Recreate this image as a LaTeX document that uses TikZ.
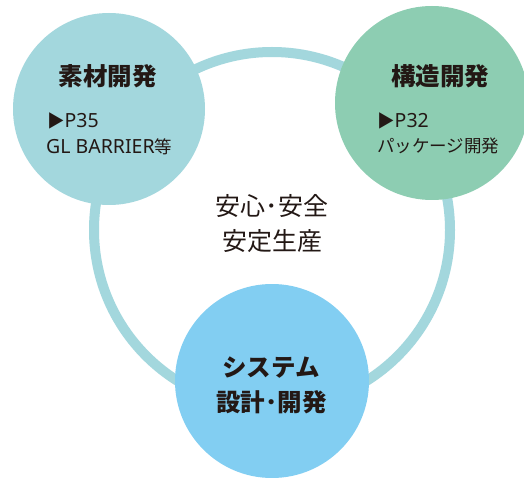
\documentclass[tikz,border=0pt]{standalone}
\usepackage{fontspec}
\setmainfont{Noto Sans CJK JP}
\newfontfamily\latinsans{Noto Sans}
\definecolor{ringc}{HTML}{A3D7DD}
\definecolor{matc}{HTML}{A3D7DD}
\definecolor{strc}{HTML}{8DCDB2}
\definecolor{sysc}{HTML}{82CEF2}
\definecolor{txt}{HTML}{231815}
\tikzset{
  title/.style={font=\fontsize{24.5}{28}\selectfont\bfseries, text=txt, inner sep=0pt, anchor=base},
  sub/.style={font=\fontsize{17.5}{20}\selectfont, text=txt, inner sep=0pt, anchor=base west},
  mid/.style={font=\fontsize{25}{28}\selectfont, text=txt, inner sep=0pt, anchor=base},
}
\newcommand{\lat}[1]{{\latinsans\fontsize{19.5}{20}\selectfont #1}}
\begin{document}
\begin{tikzpicture}[x=1pt,y=-1pt]
\useasboundingbox (0,0) rectangle (524,478);
\clip (0,0) rectangle (524,478);
\fill[white] (0,0) rectangle (524,478);
\coordinate (ringcenter) at (272,230);
\draw[ringc, line width=10pt] (ringcenter) circle[radius=178];
\fill[matc] (109,109) circle[radius=96];
\fill[strc] (432,103) circle[radius=97];
\fill[sysc] (272,381) circle[radius=97];
\node[title] (t1) at (107.5,86) {素材開発};
\node[sub] (p1) at (47,128) {▶\lat{P35}};
\node[sub] (g1) at (46,154) {\lat{GL BARRIER}等};
\node[title] (t2) at (440,86) {構造開発};
\node[sub] (p2) at (377,128) {▶\lat{P32}};
\node[sub] (g2) at (377,153) {パッケージ開発};
\node[mid] (m1) at (272,215) {安心･安全};
\node[mid] (m2) at (272,251) {安定生産};
\node[title] (t3) at (271,376) {システム};
\node[title] (t4) at (271.5,411) {設計･開発};
\end{tikzpicture}
\end{document}
